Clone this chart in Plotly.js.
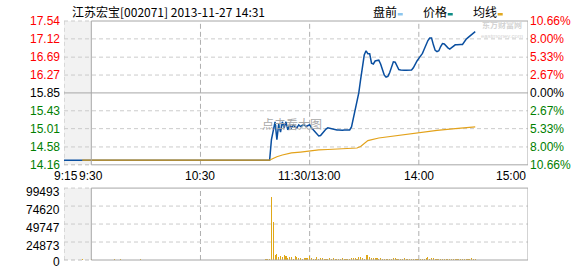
<!DOCTYPE html>
<html><head><meta charset="utf-8">
<script src="https://cdn.plot.ly/plotly-3.0.1.min.js"></script>
<style>html,body{margin:0;padding:0;background:#fff;}#chart{width:578px;height:276px;}</style>
</head><body><div id="chart"></div>
<script>
const stockTitle = "江苏宏宝[002071] 2013-11-27 14:31";
const legendNames = ["盘前", "价格", "均线"];
const watermarkText = "点击看大图";
const priceTicks = [14.16, 14.58, 15.01, 15.43, 15.85, 16.27, 16.69, 17.12, 17.54];
const pctTicks = ["10.66%", "8.00%", "5.33%", "2.67%", "0.00%", "2.67%", "5.33%", "8.00%", "10.66%"];
const volTicks = [0, 24873, 49747, 74620, 99493];
const timeTickLabels = ["9:15", "9:30", "10:30", "11:30/13:00", "14:00", "15:00"];
const gridTimes = ["10:30", "11:30", "14:00"];

const priceTimes = ["9:15","9:25","9:30","11:08","11:09","11:10","11:11","11:12","11:13","11:14","11:15","11:16","11:17","11:18","11:19","11:20","11:21","11:22","11:23","11:24","11:25","11:26","11:27","11:28","11:29","11:30",
"13:01","13:02","13:03","13:04","13:05","13:06","13:07","13:08","13:09","13:10","13:11","13:12","13:13","13:14","13:15","13:16","13:17","13:18","13:19","13:20",
"13:21","13:22","13:23","13:24","13:25","13:26","13:27","13:28","13:29","13:30","13:31","13:32","13:33","13:34","13:35","13:36","13:37","13:38","13:39","13:40",
"13:41","13:42","13:43","13:44","13:45","13:46","13:47","13:48","13:49","13:50","13:51","13:52","13:53","13:54","13:55","13:56","13:57","13:58","13:59","14:00",
"14:01","14:02","14:03","14:04","14:05","14:06","14:07","14:08","14:09","14:10","14:11","14:12","14:13","14:14","14:15","14:16","14:17","14:18","14:19","14:20",
"14:21","14:22","14:23","14:24","14:25","14:26","14:27","14:28","14:29","14:30","14:31"];
const priceValues = [14.27,14.27,14.27,14.27,14.75,14.98,15.17,14.75,15.12,14.93,15.17,15.03,15.17,14.98,15.10,15.03,15.10,15.05,15.03,15.10,15.06,15.09,15.10,15.06,15.08,15.10,
15.03,14.98,14.93,14.89,14.84,14.85,14.91,14.96,15.00,15.03,15.02,15.00,14.99,14.98,14.98,14.98,14.97,14.97,14.98,14.98,
14.98,14.98,15.05,15.26,15.50,15.69,15.85,16.16,16.46,16.74,16.84,16.77,16.77,16.55,16.53,16.60,16.61,16.62,16.53,16.37,
16.27,16.22,16.24,16.33,16.48,16.58,16.57,16.48,16.40,16.39,16.38,16.38,16.38,16.38,16.38,16.39,16.44,16.53,16.60,16.66,
16.72,16.78,16.88,16.99,17.08,17.14,17.14,16.98,16.85,16.82,16.84,16.94,17.01,17.00,16.95,16.91,16.88,16.92,16.95,16.98,
16.98,16.99,16.99,16.99,17.06,17.11,17.15,17.19,17.23,17.27,17.29];

const avgTimes = ["9:25","11:08","11:09","11:12","11:15","11:20","11:25","11:30","13:05","13:10","13:20","13:24","13:26","13:28","13:30","13:32","13:38","13:50","14:00","14:10","14:20","14:25","14:31"];
const avgValues = [14.27,14.27,14.29,14.35,14.39,14.44,14.46,14.49,14.51,14.52,14.54,14.55,14.555,14.59,14.67,14.73,14.79,14.86,14.91,14.97,15.01,15.03,15.05];

const volTimes = ["9:25","9:30","9:43","9:46","9:57","11:06","11:07","11:08","11:09","11:10","11:11","11:12","11:13","11:14","11:15","11:16","11:17","11:18","11:19","11:20","11:21","11:22","11:23","11:24","11:25","11:26","11:27","11:28","11:29","11:30",
"13:01","13:02","13:03","13:04","13:05","13:06","13:07","13:08","13:09","13:10","13:11","13:12","13:13","13:14","13:15","13:16","13:17","13:18","13:19","13:20",
"13:21","13:22","13:23","13:24","13:25","13:26","13:27","13:28","13:29","13:30","13:31","13:32","13:33","13:34","13:35","13:36","13:37","13:38","13:39","13:40",
"13:41","13:42","13:43","13:44","13:45","13:46","13:47","13:48","13:49","13:50","13:51","13:52","13:53","13:54","13:55","13:56","13:57","13:58","13:59","14:00",
"14:01","14:02","14:03","14:04","14:05","14:06","14:07","14:08","14:09","14:10","14:11","14:12","14:13","14:14","14:15","14:16","14:17","14:18","14:19","14:20",
"14:21","14:22","14:23","14:24","14:25","14:26","14:27","14:28","14:29","14:30","14:31"];
const volValues = [1800,1400,1400,1400,1400,1800,1800,1800,87500,53000,6900,8300,3700,5500,3700,6900,5500,2300,4100,4100,1400,6000,4600,2800,2800,1400,2800,2800,2800,6000,
3200,1800,900,4600,1800,3200,3200,1800,1800,900,3200,1800,3200,1800,1800,1800,900,3200,1800,1800,
1800,900,3200,3200,3200,900,4600,4600,3200,900,7400,7400,4600,3200,3200,3200,3200,900,3200,1800,
900,1800,1800,1800,900,3200,3200,900,1800,1800,1800,3200,1800,1800,1800,1800,1800,1800,1800,1800,
1800,1800,1800,3200,3700,1400,3200,3200,1800,1400,1400,1800,1800,1400,1400,1800,1400,1800,1400,1400,
1400,1400,1400,1400,1400,1400,1400,1800,3200,1800,900];

function minuteIndex(t){ const p=t.split(':').map(Number); const v=p[0]*60+p[1]; return v<=690 ? v-555 : 135+(v-780); }
// pixel helpers for layout-only positions (plot area 64..528.3 x, 21..260.3 y)
const PL=64, PW=464.3, PB=260.3, PH=239.3;
const px2x = px => (px-PL)/PW;
const px2y = py => (PB-py)/PH;

const numFont = "Liberation Sans, Arial, sans-serif";
const cjkFont = "Noto Sans CJK SC, sans-serif";

const traces = [
  {x: priceTimes.map(minuteIndex), y: priceValues, type:'scatter', mode:'lines', line:{color:'#0A4FA0', width:1.5}, xaxis:'x', yaxis:'y', hoverinfo:'skip'},
  {x: avgTimes.map(minuteIndex), y: avgValues, type:'scatter', mode:'lines', line:{color:'#E3A21A', width:1.2}, xaxis:'x', yaxis:'y', hoverinfo:'skip'},
  {x: volTimes.map(minuteIndex), y: volValues, type:'bar', width:0.6, marker:{color:'#E0A818', line:{width:0}}, xaxis:'x2', yaxis:'y2', hoverinfo:'skip'}
];

const shapes = [];
const ann = [];
const gridCol = '#CBCBCB', frameCol = '#A6A6A6';
[['y','x'],['y2','x2']].forEach(([ya,xa])=>{
  shapes.push({type:'rect', xref:xa, yref:ya+' domain', x0:0, x1:15, y0:0, y1:1, fillcolor:'#F2F2F2', line:{width:0}, layer:'below'});
  shapes.push({type:'line', xref:xa, yref:ya+' domain', x0:0, x1:0, y0:0, y1:1, line:{color:'#BDBDBD', width:1, dash:'4px,3px'}, layer:'below'});
  shapes.push({type:'line', xref:xa, yref:ya+' domain', x0:0, x1:15, y0:1, y1:1, line:{color:gridCol, width:1, dash:'4px,3px'}, layer:'below'});
  shapes.push({type:'line', xref:xa, yref:ya+' domain', x0:0, x1:15, y0:0, y1:0, line:{color:'#BDBDBD', width:1, dash:'4px,3px'}, layer:'below'});
  gridTimes.forEach(t=>shapes.push({type:'line', xref:xa, yref:ya+' domain', x0:minuteIndex(t), x1:minuteIndex(t), y0:0, y1:1, line:{color:'#AFAFAF', width:1, dash:'5px,3px'}, layer:'below'}));
});
priceTicks.forEach((v,i)=>{
  if(i===0||i===priceTicks.length-1) return;
  if(i===4) shapes.push({type:'line', xref:'x domain', yref:'y', x0:0, x1:1, y0:v, y1:v, line:{color:frameCol, width:1}, layer:'below'});
  else shapes.push({type:'line', xref:'x domain', yref:'y', x0:0, x1:1, y0:v, y1:v, line:{color:gridCol, width:1, dash:'4px,3px'}, layer:'below'});
});
volTicks.forEach((v,i)=>{
  if(i===0||i===volTicks.length-1) return;
  shapes.push({type:'line', xref:'x2 domain', yref:'y2', x0:0, x1:1, y0:v, y1:v, line:{color:gridCol, width:1, dash:'4px,3px'}, layer:'below'});
});
[['y','x'],['y2','x2']].forEach(([ya,xa])=>{
  shapes.push({type:'rect', xref:xa, yref:ya+' domain', x0:15, x1:255, y0:0, y1:1, line:{color:frameCol, width:1}, fillcolor:'rgba(0,0,0,0)', layer:'above'});
});

priceTicks.forEach((v,i)=>{
  const col = i<4 ? '#008000' : (i===4 ? '#000000' : '#FF0000');
  ann.push({xref:'paper', yref:'y', x:0, y:v, xanchor:'right', yanchor:'middle', xshift:-2, text:v.toFixed(2), showarrow:false, font:{family:numFont, size:12, color:col}});
  ann.push({xref:'paper', yref:'y', x:1, y:v, xanchor:'left', yanchor:'middle', xshift:0, text:pctTicks[i], showarrow:false, font:{family:numFont, size:12, color:col}});
});
volTicks.forEach((v,i)=>{
  ann.push({xref:'paper', yref:'y2', x:0, y:v, xanchor:'right', yanchor:'middle', xshift:-2, yshift: i===0 ? -2 : -4, text:String(v), showarrow:false, font:{family:numFont, size:12, color:'#000'}});
});
timeTickLabels.forEach((t,i)=>{
  const mi = minuteIndex(t.split('/')[0]);
  const last = i===timeTickLabels.length-1;
  ann.push({xref:'x', yref:'paper', x:mi, y:px2y(176), xanchor: last?'right':'center', yanchor:'middle', xshift: i===0?2:0, text:t, showarrow:false, font:{family:numFont, size:12, color:'#000'}});
});
ann.push({xref:'paper', yref:'paper', x:px2x(70), y:px2y(11.5), xanchor:'left', yanchor:'middle', text:stockTitle, showarrow:false, font:{family:cjkFont, size:12, color:'#000'}});
const legCols = ['#8CC6EE', '#0E8C86', '#E0A820'];
const legX = [371, 421, 471];
legendNames.forEach((n,i)=>{
  ann.push({xref:'paper', yref:'paper', x:px2x(legX[i]), y:px2y(11.5), xanchor:'left', yanchor:'middle', text:n, showarrow:false, font:{family:cjkFont, size:12, color:'#000'}});
  shapes.push({type:'rect', xref:'paper', yref:'paper', x0:px2x(legX[i]+27), x1:px2x(legX[i]+32), y0:px2y(15.5), y1:px2y(13), fillcolor:legCols[i], line:{width:0}});
});
ann.push({xref:'paper', yref:'paper', x:px2x(292), y:px2y(124), xanchor:'center', yanchor:'middle', text:watermarkText, showarrow:false, font:{family:cjkFont, size:12, color:'#A8A8A8'}});
ann.push({xref:'paper', yref:'paper', x:px2x(502), y:px2y(25), xanchor:'center', yanchor:'middle', text:'<b>东方财富网</b>', showarrow:false, font:{family:cjkFont, size:8, color:'#D4D4D4'}});
ann.push({xref:'paper', yref:'paper', x:px2x(502), y:px2y(36), xanchor:'center', yanchor:'middle', text:'eastmoney.com', showarrow:false, font:{family:numFont, size:6, color:'#D4D4D4'}});

const axX = {range:[0,255], showgrid:false, zeroline:false, showticklabels:false, ticks:'', showline:false, fixedrange:true};
const layout = {
  width:578, height:276,
  margin:{l:64, r:49.7, t:21, b:15.7, pad:0},
  paper_bgcolor:'#FFFFFF', plot_bgcolor:'rgba(0,0,0,0)',
  showlegend:false, bargap:0,
  xaxis:Object.assign({anchor:'y'}, axX),
  xaxis2:Object.assign({anchor:'y2'}, axX),
  yaxis:{domain:[(260.3-165)/239.3, 1], range:[priceTicks[0], priceTicks[priceTicks.length-1]], showgrid:false, zeroline:false, showticklabels:false, ticks:'', fixedrange:true},
  yaxis2:{domain:[0, (260.3-188.3)/239.3], range:[0, volTicks[volTicks.length-1]], showgrid:false, zeroline:false, showticklabels:false, ticks:'', fixedrange:true},
  shapes:shapes, annotations:ann
};
Plotly.newPlot('chart', traces, layout, {staticPlot:true, displayModeBar:false});
</script></body></html>
